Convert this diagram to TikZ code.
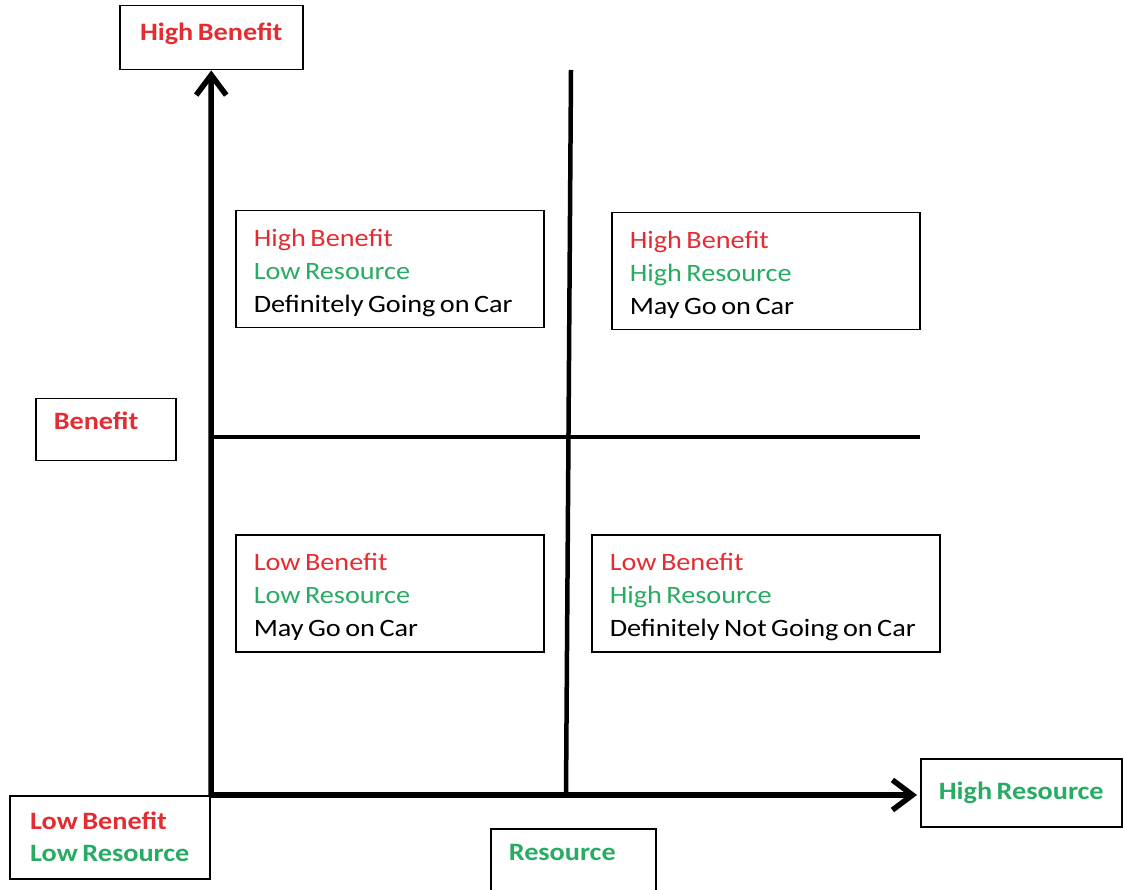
\documentclass[tikz,border=0pt]{standalone}
\usepackage{fontspec}
\setmainfont{Carlito}[FakeStretch=1.13, WordSpace=0.7]
\usetikzlibrary{arrows.meta,positioning}
\definecolor{benred}{RGB}{228,45,50}
\definecolor{resgreen}{RGB}{40,172,100}
\tikzset{
  box/.style={draw, line width=1.5pt, anchor=north west, inner xsep=18pt,
    align=flush left, font=\fontsize{25}{33}\selectfont},
  quadbox/.style={box, text width=#1-36pt, minimum height=117pt,
    execute at begin node={\rule{0pt}{25pt}}},
  labelbox/.style={box, font=\bfseries\fontsize{25}{32}\selectfont},
  axis/.style={line width=5.5pt, -{Straight Barb[length=20pt,width=30pt]}},
  divider/.style={line width=4.5pt}
}
\begin{document}
\begin{tikzpicture}[x=1pt, y=-1pt]
\useasboundingbox[fill=white] (0,0) rectangle (1125,890);
\node[labelbox, minimum width=183pt, minimum height=64pt, text depth=13pt] (hb)  at (119,5)   {\textcolor{benred}{High Benefit}};
\node[labelbox, text width=104pt, minimum height=62pt, text depth=18pt]    (ben) at (35,398)  {\textcolor{benred}{Benefit}};
\node[labelbox, minimum width=201pt, minimum height=68pt]                  (hr)  at (920,758) {\textcolor{resgreen}{High Resource}};
\node[labelbox, minimum width=200pt, minimum height=83pt]                  (lbr) at (9,795)   {\textcolor{benred}{Low Benefit}\\\textcolor{resgreen}{Low Resource}};
\node[labelbox, text width=129pt, minimum height=68pt, text depth=20pt]    (res) at (490,828) {\textcolor{resgreen}{Resource}};
\node[quadbox=308pt] (hblr) at (235,210) {\textcolor{benred}{High Benefit}\\\textcolor{resgreen}{Low Resource}\\Definitely Going on Car};
\node[quadbox=308pt] (hbhr) at (611,212) {\textcolor{benred}{High Benefit}\\\textcolor{resgreen}{High Resource}\\May Go on Car};
\node[quadbox=308pt] (lblr) at (235,534) {\textcolor{benred}{Low Benefit}\\\textcolor{resgreen}{Low Resource}\\May Go on Car};
\node[quadbox=348pt] (lbhr) at (591,534) {\textcolor{benred}{Low Benefit}\\\textcolor{resgreen}{High Resource}\\Definitely Not Going on Car};
\coordinate (o)      at (211,795);
\coordinate (vtop)   at (571,70);
\coordinate (vbot)   at (566,795);
\coordinate (hleft)  at (211,437);
\coordinate (hright) at (920,437);
\draw[divider] (vbot) -- (vtop);
\draw[divider] (hleft) -- (hright);
\draw[axis] (o) -- (hb.south);
\draw[axis] (o) -- ([xshift=-3pt]hr.west |- o);
\end{tikzpicture}
\end{document}
